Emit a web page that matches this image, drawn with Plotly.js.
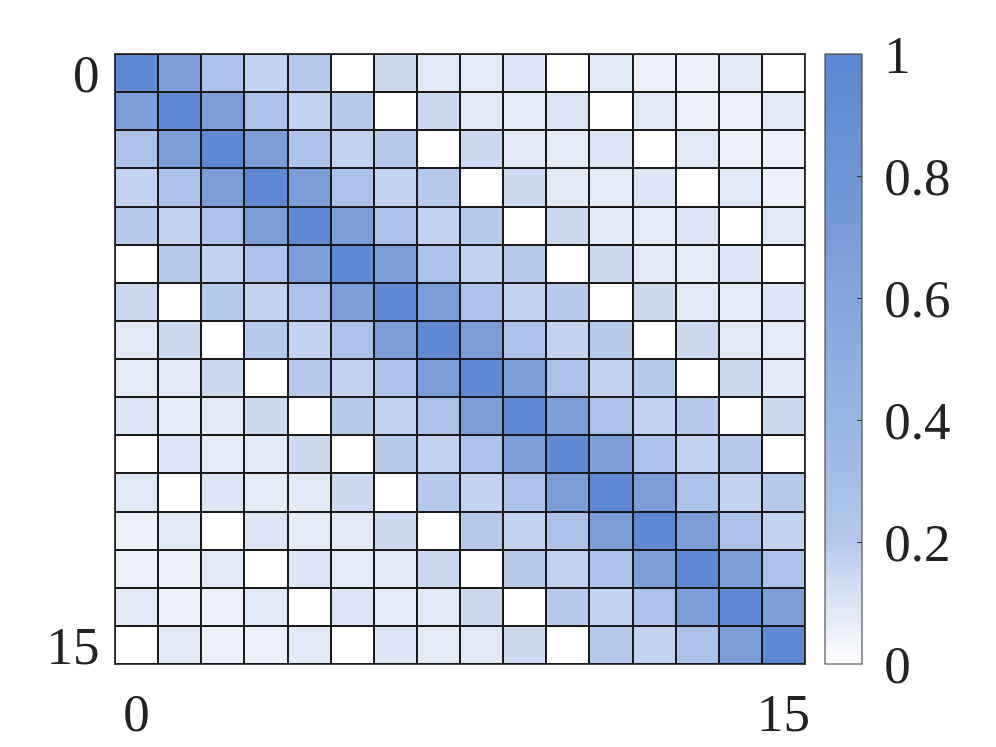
<!DOCTYPE html>
<html>
<head>
<meta charset="utf-8">
<script src="https://cdn.plot.ly/plotly-3.0.1.min.js"></script>
<style>
  html, body { margin: 0; padding: 0; background: #ffffff; }
  #plot { width: 996px; height: 747px; }
</style>
</head>
<body>
<div id="plot"></div>
<script>
// cell indices along both axes
const idx = [0, 1, 2, 3, 4, 5, 6, 7, 8, 9, 10, 11, 12, 13, 14, 15];

// matrix values (row 0 at the top)
const z = [
  [1.00, 0.68, 0.26, 0.165, 0.20, 0.00, 0.14, 0.08, 0.075, 0.10, 0.00, 0.085, 0.05, 0.05, 0.08, 0.00],
  [0.68, 1.00, 0.68, 0.26, 0.165, 0.20, 0.00, 0.14, 0.08, 0.075, 0.10, 0.00, 0.085, 0.05, 0.05, 0.08],
  [0.26, 0.68, 1.00, 0.68, 0.26, 0.165, 0.20, 0.00, 0.14, 0.08, 0.075, 0.10, 0.00, 0.085, 0.05, 0.05],
  [0.165, 0.26, 0.68, 1.00, 0.68, 0.26, 0.165, 0.20, 0.00, 0.14, 0.08, 0.075, 0.10, 0.00, 0.085, 0.05],
  [0.20, 0.165, 0.26, 0.68, 1.00, 0.68, 0.26, 0.165, 0.20, 0.00, 0.14, 0.08, 0.075, 0.10, 0.00, 0.085],
  [0.00, 0.20, 0.165, 0.26, 0.68, 1.00, 0.68, 0.26, 0.165, 0.20, 0.00, 0.14, 0.08, 0.075, 0.10, 0.00],
  [0.14, 0.00, 0.20, 0.165, 0.26, 0.68, 1.00, 0.68, 0.26, 0.165, 0.20, 0.00, 0.14, 0.08, 0.075, 0.10],
  [0.08, 0.14, 0.00, 0.20, 0.165, 0.26, 0.68, 1.00, 0.68, 0.26, 0.165, 0.20, 0.00, 0.14, 0.08, 0.075],
  [0.075, 0.08, 0.14, 0.00, 0.20, 0.165, 0.26, 0.68, 1.00, 0.68, 0.26, 0.165, 0.20, 0.00, 0.14, 0.08],
  [0.10, 0.075, 0.08, 0.14, 0.00, 0.20, 0.165, 0.26, 0.68, 1.00, 0.68, 0.26, 0.165, 0.20, 0.00, 0.14],
  [0.00, 0.10, 0.075, 0.08, 0.14, 0.00, 0.20, 0.165, 0.26, 0.68, 1.00, 0.68, 0.26, 0.165, 0.20, 0.00],
  [0.085, 0.00, 0.10, 0.075, 0.08, 0.14, 0.00, 0.20, 0.165, 0.26, 0.68, 1.00, 0.68, 0.26, 0.165, 0.20],
  [0.05, 0.085, 0.00, 0.10, 0.075, 0.08, 0.14, 0.00, 0.20, 0.165, 0.26, 0.68, 1.00, 0.68, 0.26, 0.165],
  [0.05, 0.05, 0.085, 0.00, 0.10, 0.075, 0.08, 0.14, 0.00, 0.20, 0.165, 0.26, 0.68, 1.00, 0.68, 0.26],
  [0.08, 0.05, 0.05, 0.085, 0.00, 0.10, 0.075, 0.08, 0.14, 0.00, 0.20, 0.165, 0.26, 0.68, 1.00, 0.68],
  [0.00, 0.08, 0.05, 0.05, 0.085, 0.00, 0.10, 0.075, 0.08, 0.14, 0.00, 0.20, 0.165, 0.26, 0.68, 1.00]
];

const axisTicks = [0, 15];
const barTicks = [0, 0.2, 0.4, 0.6, 0.8, 1];
const barTickText = ['0', '0.2', '0.4', '0.6', '0.8', '1'];

// white -> blue, steep at the low end like the reference bar
const blues = [
  [0.00, '#ffffff'],
  [0.05, '#edf2fa'],
  [0.10, '#dbe5f5'],
  [0.15, '#c8d7f0'],
  [0.20, '#b4c9eb'],
  [0.30, '#a6bee6'],
  [0.50, '#8eaddf'],
  [0.70, '#799cd8'],
  [1.00, '#5f87d2']
];

const serif = '"Liberation Serif", serif';

const data = [{
  type: 'heatmap',
  x: idx,
  y: idx,
  z: z,
  zmin: 0,
  zmax: 1,
  colorscale: blues,
  xgap: 2,
  ygap: 2,
  colorbar: {
    x: 1.029,
    xanchor: 'left',
    xpad: 0,
    y: 0.5,
    len: 1,
    ypad: 0,
    thickness: 37,
    outlinecolor: '#333',
    outlinewidth: 1,
    ticks: 'inside',
    ticklen: 5,
    tickcolor: '#333',
    tickvals: barTicks,
    // thin space pushes the labels a little off the bar
    ticktext: barTickText.map(t => '\u2009' + t),
    tickfont: { family: serif, size: 53, color: '#222' }
  }
}];

const layout = {
  width: 996,
  height: 747,
  margin: { l: 115, r: 191, t: 54, b: 83 },
  paper_bgcolor: '#ffffff',
  plot_bgcolor: '#1a1a1a',
  xaxis: {
    range: [-0.5, 15.5],
    tickvals: axisTicks,
    ticks: '',
    ticklabelstandoff: 2,
    showgrid: false,
    zeroline: false,
    showline: true,
    mirror: true,
    linecolor: '#444',
    linewidth: 1,
    tickfont: { family: serif, size: 53, color: '#222' }
  },
  yaxis: {
    range: [15.5, -0.5],
    tickvals: axisTicks,
    ticks: '',
    ticklabelstandoff: 4,
    showgrid: false,
    zeroline: false,
    showline: true,
    mirror: true,
    linecolor: '#444',
    linewidth: 1,
    tickfont: { family: serif, size: 53, color: '#222' }
  }
};

Plotly.newPlot('plot', data, layout, { displayModeBar: false });
</script>
</body>
</html>
